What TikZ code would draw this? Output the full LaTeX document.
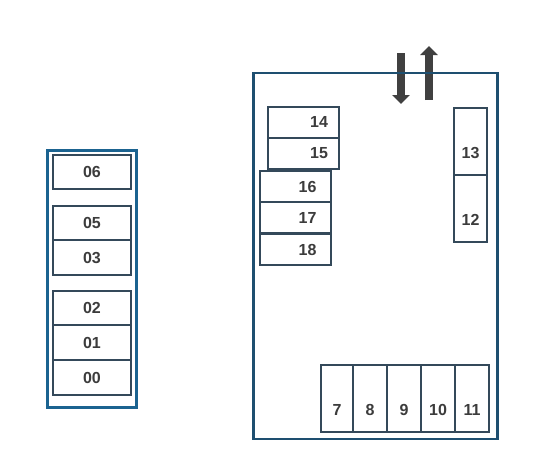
\documentclass[tikz,border=0pt]{standalone}
\usepackage{fontspec}
\setmainfont{Liberation Sans}
\usetikzlibrary{positioning,arrows.meta}
\definecolor{rackblue}{HTML}{1B6390}
\definecolor{roomblue}{HTML}{1E4F70}
\definecolor{slotline}{HTML}{34495A}
\definecolor{slottext}{HTML}{3C3C3C}
\definecolor{flowgray}{HTML}{404040}

\begin{document}
\begin{tikzpicture}[x=1pt, y=-1pt,
      slot/.style={rectangle, draw=slotline, line width=2pt, fill=white,
        minimum width=78pt, minimum height=34.5pt, inner sep=0pt,
        text=slottext, font=\fontsize{16}{18}\selectfont\bfseries},
      rslot/.style={slot, minimum width=71pt, minimum height=31pt,
        text width=#1, align=right},
      rslot/.default=50pt,
      tall/.style={slot, minimum width=33pt, minimum height=67pt,
        text height=40pt, text depth=6pt},
      frame/.style={rectangle, draw=#1, line width=2.6pt, inner sep=0pt},
      flow/.style={-{Triangle[width=17pt,length=9pt]}, line width=8pt, color=flowgray}
    ]
      \useasboundingbox (0,0) rectangle (538,469);
      % left rack
      \node[frame=rackblue, line width=3pt, minimum width=89pt, minimum height=257pt] (rack) at (92,278.5) {};
      \node[slot] (s06) at (92,172)   {06};
      \node[slot] (s05) at (92,223)   {05};
      \node[slot] (s03) at (92,257.5) {03};
      \node[slot] (s02) at (92,308)   {02};
      \node[slot] (s01) at (92,342.5) {01};
      \node[slot] (s00) at (92,377.5) {00};
      % room: in / out arrows
      \coordinate (intop) at (401,53);  \coordinate (inend) at (401,104);
      \coordinate (outbot) at (429,100); \coordinate (outend) at (429,46);
      \draw[flow] (intop) -- (inend);
      \draw[flow] (outbot) -- (outend);
      \node[frame=roomblue, minimum width=244pt, minimum height=366pt] (room) at (375.5,256) {};
      % left column
      \node[rslot] (s14) at (303,122)   {14};
      \node[rslot] (s15) at (303,153)   {15};
      \node[rslot=42pt] (s16) at (295.5,186.5) {16};
      \node[rslot=42pt] (s17) at (295.5,217.5) {17};
      \node[rslot=42pt] (s18) at (295.5,249.5) {18};
      % right column
      \node[tall] (s13) at (470.5,141.5) {13};
      \node[tall] (s12) at (470.5,208.5) {12};
      % bottom row
      \node[tall, minimum width=32pt] (s07) at (337,398.5) {7};
      \node[tall, minimum width=34pt] (s08) at (370,398.5) {8};
      \node[tall, minimum width=34pt] (s09) at (404,398.5) {9};
      \node[tall, minimum width=34pt] (s10) at (438,398.5) {10};
      \node[tall, minimum width=34pt] (s11) at (472,398.5) {11};
    \end{tikzpicture}
\end{document}
